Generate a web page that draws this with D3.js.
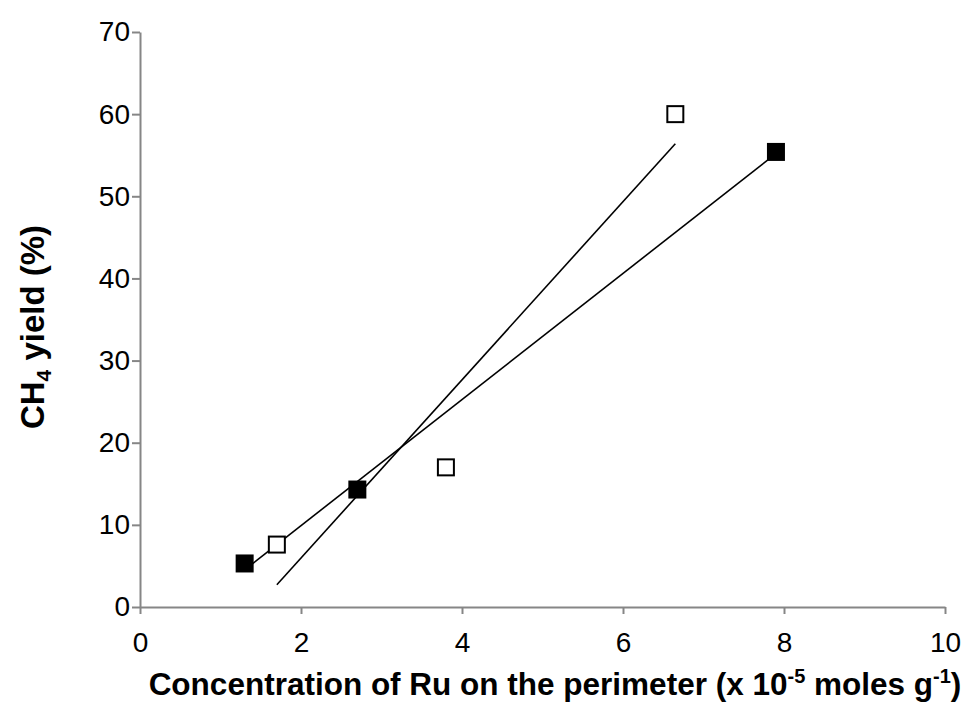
<!DOCTYPE html>
<html>
<head>
<meta charset="utf-8">
<script src="https://cdn.jsdelivr.net/npm/d3@7"></script>
<style>
  body { margin: 0; background: #fff; }
  svg text { font-family: Arial, "Liberation Sans", sans-serif; fill: #000; }
</style>
</head>
<body>
<svg id="chart" width="975" height="702"></svg>
<script>
  'use strict';
  // filled squares
  var filledX = [1.3, 2.7, 7.9];
  var filledY = [5.3, 14.3, 55.4];
  // open squares
  var openX = [1.7, 3.8, 6.65];
  var openY = [7.6, 17.0, 60.0];

  var xTicks = [0, 2, 4, 6, 8, 10];
  var yTicks = [0, 10, 20, 30, 40, 50, 60, 70];

  var svg = d3.select('#chart');
  var x = d3.scaleLinear().domain([0, 10]).range([140, 945]);
  var y = d3.scaleLinear().domain([0, 70]).range([607, 32]);
  var axisColor = '#868686';

  // axes
  var xAxis = svg.append('g').attr('transform', 'translate(0,607)')
    .call(d3.axisBottom(x).tickValues(xTicks).tickSize(7).tickSizeOuter(0).tickPadding(0));
  var yAxis = svg.append('g').attr('transform', 'translate(140,0)')
    .call(d3.axisLeft(y).tickValues(yTicks).tickSize(8).tickSizeOuter(0).tickPadding(8));
  [xAxis, yAxis].forEach(function (g) {
    g.attr('font-size', null).attr('font-family', null);
    g.select('.domain').attr('stroke', axisColor).attr('stroke-width', 2);
    g.selectAll('.tick line').attr('stroke', axisColor).attr('stroke-width', 2);
    g.selectAll('.tick text').style('font-size', '28px').attr('fill', '#000');
  });
  xAxis.selectAll('.tick text').attr('dy', null).attr('y', 45);
  yAxis.selectAll('.tick text').attr('x', -10);

  // least-squares trendlines over each series' x span
  function fit(xs, ys) {
    var mx = d3.mean(xs), my = d3.mean(ys);
    var sxy = d3.sum(xs, function (v, i) { return (v - mx) * (ys[i] - my); });
    var sxx = d3.sum(xs, function (v) { return (v - mx) * (v - mx); });
    var b = sxy / sxx, a = my - b * mx;
    return d3.extent(xs).map(function (v) { return [v, a + b * v]; });
  }
  var line = d3.line().x(function (d) { return x(d[0]); }).y(function (d) { return y(d[1]); });
  [fit(filledX, filledY), fit(openX, openY)].forEach(function (pts) {
    svg.append('path').attr('d', line(pts)).attr('fill', 'none')
      .attr('stroke', '#000').attr('stroke-width', 1.6);
  });

  // markers
  var s = 18;
  svg.append('g').selectAll('rect').data(d3.zip(filledX, filledY)).join('rect')
    .attr('x', function (d) { return x(d[0]) - s / 2; })
    .attr('y', function (d) { return y(d[1]) - s / 2; })
    .attr('width', s).attr('height', s).attr('fill', '#000');
  svg.append('g').selectAll('rect').data(d3.zip(openX, openY)).join('rect')
    .attr('x', function (d) { return x(d[0]) - (s - 2) / 2; })
    .attr('y', function (d) { return y(d[1]) - (s - 2) / 2; })
    .attr('width', s - 2).attr('height', s - 2)
    .attr('fill', '#fff').attr('stroke', '#000').attr('stroke-width', 2);

  // axis titles
  var xt = svg.append('text').attr('x', 555).attr('y', 695).attr('text-anchor', 'middle')
    .style('font-size', '31.5px').attr('font-weight', 'bold');
  xt.append('tspan').text('Concentration of Ru on the perimeter (x 10');
  xt.append('tspan').style('font-size', '20px').attr('dy', -12).text('-5');
  xt.append('tspan').attr('dy', 12).text(' moles g');
  xt.append('tspan').style('font-size', '20px').attr('dy', -12).text('-1');
  xt.append('tspan').attr('dy', 12).text(')');

  var yt = svg.append('text').attr('transform', 'translate(44,327) rotate(-90)')
    .attr('text-anchor', 'middle').style('font-size', '33px').attr('font-weight', 'bold');
  yt.append('tspan').text('CH');
  yt.append('tspan').style('font-size', '21px').attr('dy', 7).text('4');
  yt.append('tspan').attr('dy', -7).text(' yield (%)');
</script>
</body>
</html>
